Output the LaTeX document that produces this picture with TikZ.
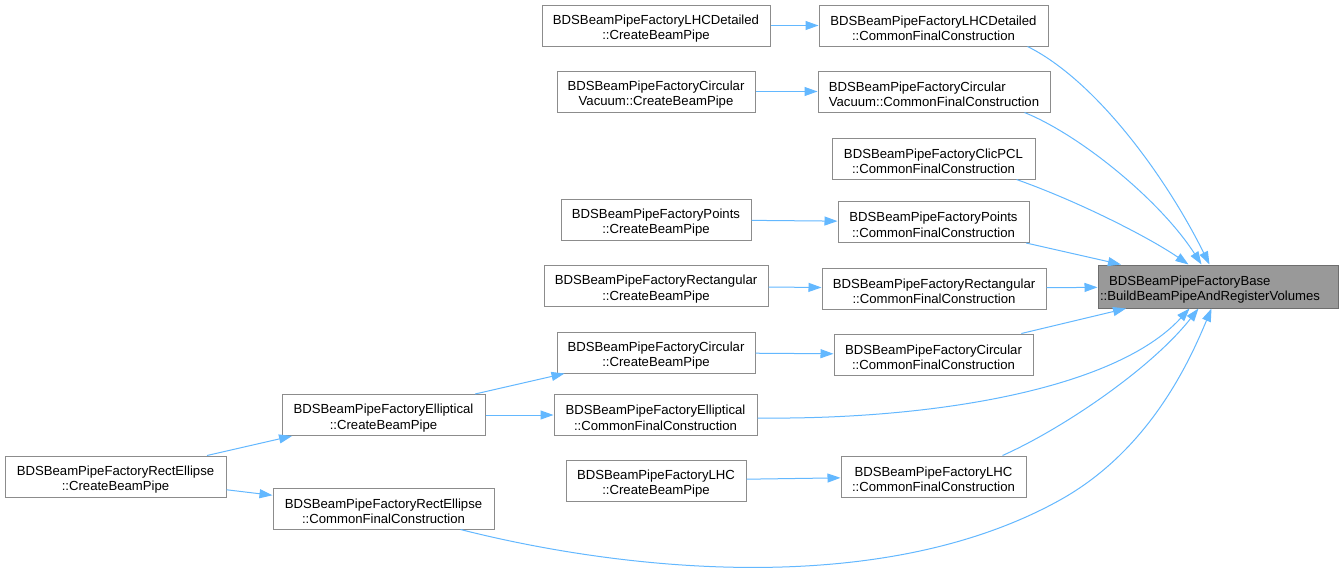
\documentclass[tikz,border=0pt]{standalone}
\usepackage{fontspec}
\setmainfont{Liberation Sans}
\usetikzlibrary{arrows.meta,calc}
\definecolor{edgeblue}{HTML}{63B8FF}
\definecolor{boxline}{HTML}{8C8C8C}
\definecolor{basefill}{HTML}{999999}
\definecolor{baseline}{HTML}{6E6E6E}
\newcommand\topstrut{\rule{0pt}{15.5pt}}
\tikzset{
  fn/.style={draw=boxline, line width=1pt, fill=white, inner sep=0pt, align=center,
    minimum height=41pt, font=\fontsize{13.15}{15.5}\selectfont},
  basebox/.style={fn, draw=baseline, fill=basefill, align=left, text width=236pt, minimum height=43pt},
  call/.style={draw=edgeblue, line width=1pt, -{Triangle[length=13pt,width=9pt]}}
}
\begin{document}
\begin{tikzpicture}[x=1pt,y=-1pt]
\useasboundingbox (0,0) rectangle (1344,573);
\fill[white] (0,0) rectangle (1344,573);

\node[fn, minimum width=228pt] (lhcdC) at (656,25.5) {\topstrut BDSBeamPipeFactoryLHCDetailed\\::CreateBeamPipe};
\node[fn, minimum width=229pt] (lhcdF) at (933.5,25.5) {\topstrut BDSBeamPipeFactoryLHCDetailed\\::CommonFinalConstruction};
\node[fn, minimum width=198pt] (cvC) at (656,91.5) {\topstrut BDSBeamPipeFactoryCircular\\Vacuum::CreateBeamPipe};
\node[fn, align=left, minimum width=232pt] (cvF) at (934,91.5) {\topstrut BDSBeamPipeFactoryCircular\\Vacuum::CommonFinalConstruction};
\node[fn, minimum width=203pt] (clic) at (933.5,158.5) {\topstrut BDSBeamPipeFactoryClicPCL\\::CommonFinalConstruction};
\node[fn, minimum width=190pt] (ptC) at (656,219.5) {\topstrut BDSBeamPipeFactoryPoints\\::CreateBeamPipe};
\node[fn, minimum width=191pt] (ptF) at (933.5,222) {\topstrut BDSBeamPipeFactoryPoints\\::CommonFinalConstruction};
\node[fn, minimum width=224pt] (reC) at (656,286) {\topstrut BDSBeamPipeFactoryRectangular\\::CreateBeamPipe};
\node[fn, minimum width=224pt] (reF) at (934,288.5) {\topstrut BDSBeamPipeFactoryRectangular\\::CommonFinalConstruction};
\node[fn, minimum width=198pt] (ciC) at (656,352.5) {\topstrut BDSBeamPipeFactoryCircular\\::CreateBeamPipe};
\node[fn, minimum width=199pt] (ciF) at (933.5,354.5) {\topstrut BDSBeamPipeFactoryCircular\\::CommonFinalConstruction};
\node[fn, minimum width=203pt] (elC) at (383.5,415) {\topstrut BDSBeamPipeFactoryElliptical\\::CreateBeamPipe};
\node[fn, minimum width=203pt] (elF) at (655.5,415) {\topstrut BDSBeamPipeFactoryElliptical\\::CommonFinalConstruction};
\node[fn, minimum width=180pt] (lhC) at (656,480.5) {\topstrut BDSBeamPipeFactoryLHC\\::CreateBeamPipe};
\node[fn, minimum width=185pt] (lhF) at (933.5,476.5) {\topstrut BDSBeamPipeFactoryLHC\\::CommonFinalConstruction};
\node[fn, minimum width=221pt] (reeC) at (115.5,476.5) {\topstrut BDSBeamPipeFactoryRectEllipse\\::CreateBeamPipe};
\node[fn, minimum width=221pt] (reeF) at (383.5,508.5) {\topstrut BDSBeamPipeFactoryRectEllipse\\::CommonFinalConstruction};
\node[basebox, minimum width=240pt] (base) at (1218,286.5) {\topstrut\hspace*{9pt}BDSBeamPipeFactoryBase\\::BuildBeamPipeAndRegisterVolumes};

% straight calls
\draw[call] (lhcdC) -- (lhcdF);
\draw[call] (cvC) -- (cvF);
\draw[call] (ptC) -- (ptF);
\draw[call] (reC) -- (reF);
\draw[call] (ciC) -- (ciF);
\draw[call] (lhC) -- (lhF);
\draw[call] (elC) -- (elF);
\draw[call] (elC) -- (ciC);
\draw[call] (reeC) -- (elC);
\draw[call] (reeC) -- (reeF);
\draw[call] (ptF) -- (base);
\draw[call] (reF) -- (base);
\draw[call] (ciF) -- (base);

% curved calls
\draw[call] ($(lhcdF.south east)+(-21,0)$) .. controls (1095,80) and (1165,175) .. ($(base.north west)+(112,0)$);
\draw[call] ($(cvF.south east)+(-26,0)$) .. controls (1080,135) and (1160,200) .. ($(base.north west)+(104,0)$);
\draw[call] ($(clic.south east)+(-19,0)$) .. controls (1080,202) and (1150,238) .. ($(base.north west)+(91,0)$);
\draw[call] ($(elF.east)+(0,3)$) .. controls (930,420) and (1115,390) .. ($(base.south west)+(92,0)$);
\draw[call] ($(lhF.north east)+(-24,0)$) .. controls (1060,430) and (1150,370) .. ($(base.south west)+(101,0)$);
\draw[call] ($(reeF.south east)+(-34,0)$) .. controls (620,570) and (880,600) .. (1060,500)
  .. controls (1150,450) and (1190,360) .. ($(base.south west)+(114,0)$);
\end{tikzpicture}
\end{document}
